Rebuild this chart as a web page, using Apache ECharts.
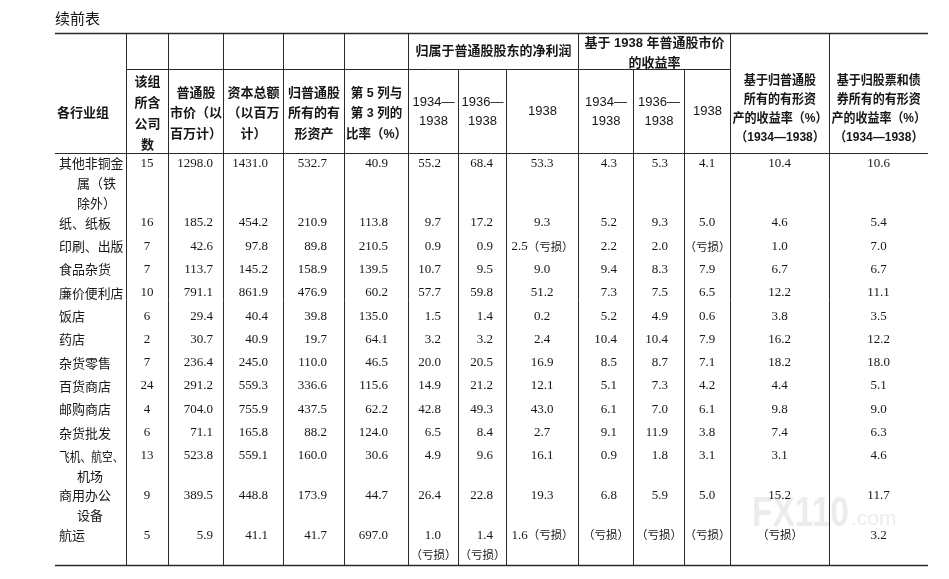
<!DOCTYPE html>
<html>
<head>
<meta charset="utf-8">
<script src="https://cdn.jsdelivr.net/npm/echarts/dist/echarts.min.js"></script>
<style>
  html, body { margin: 0; padding: 0; background: #ffffff; }
  #chart { width: 949px; height: 579px; }
</style>
</head>
<body>
<div id="chart"></div>
<script>
// ---------------- data ----------------
const tableTitle = '续前表';
const industries = [
  '其他非铜金\n属（铁\n除外）', '纸、纸板', '印刷、出版', '食品杂货', '廉价便利店', '饭店', '药店',
  '杂货零售', '百货商店', '邮购商店', '杂货批发', '飞机、航空、\n机场', '商用办公\n设备', '航运'
];
const companyCount          = [15, 16, 7, 7, 10, 6, 2, 7, 24, 4, 6, 13, 9, 5];
const commonStockPrice      = [1298.0, 185.2, 42.6, 113.7, 791.1, 29.4, 30.7, 236.4, 291.2, 704.0, 71.1, 523.8, 389.5, 5.9];
const totalCapital          = [1431.0, 454.2, 97.8, 145.2, 861.9, 40.4, 40.9, 245.0, 559.3, 755.9, 165.8, 559.1, 448.8, 41.1];
const commonTangibleAssets  = [532.7, 210.9, 89.8, 158.9, 476.9, 39.8, 19.7, 110.0, 336.6, 437.5, 88.2, 160.0, 173.9, 41.7];
const ratioCol5ToCol3       = [40.9, 113.8, 210.5, 139.5, 60.2, 135.0, 64.1, 46.5, 115.6, 62.2, 124.0, 30.6, 44.7, 697.0];
// negative = loss of that amount; null = loss (no figure)
const netIncome1934to1938   = [55.2, 9.7, 0.9, 10.7, 57.7, 1.5, 3.2, 20.0, 14.9, 42.8, 6.5, 4.9, 26.4, -1.0];
const netIncome1936to1938   = [68.4, 17.2, 0.9, 9.5, 59.8, 1.4, 3.2, 20.5, 21.2, 49.3, 8.4, 9.6, 22.8, -1.4];
const netIncome1938         = [53.3, 9.3, -2.5, 9.0, 51.2, 0.2, 2.4, 16.9, 12.1, 43.0, 2.7, 16.1, 19.3, -1.6];
const yieldOnPrice1934to1938 = [4.3, 5.2, 2.2, 9.4, 7.3, 5.2, 10.4, 8.5, 5.1, 6.1, 9.1, 0.9, 6.8, null];
const yieldOnPrice1936to1938 = [5.3, 9.3, 2.0, 8.3, 7.5, 4.9, 10.4, 8.7, 7.3, 7.0, 11.9, 1.8, 5.9, null];
const yieldOnPrice1938       = [4.1, 5.0, null, 7.9, 6.5, 0.6, 7.9, 7.1, 4.2, 6.1, 3.8, 3.1, 5.0, null];
const returnOnCommonTangible = [10.4, 4.6, 1.0, 6.7, 12.2, 3.8, 16.2, 18.2, 4.4, 9.8, 7.4, 3.1, 15.2, null];
const returnOnTotalTangible  = [10.6, 5.4, 7.0, 6.7, 11.1, 3.5, 12.2, 18.0, 5.1, 9.0, 6.3, 4.6, 11.7, 3.2];
const lossLabel = '（亏损）';

const headerColumns = ['各行业组', '该组\n所含\n公司\n数', '普通股\n市价（以\n百万计）', '资本总额\n（以百万\n计）',
  '归普通股\n所有的有\n形资产', '第 5 列与\n第 3 列的\n比率（%）'];
const groupHeaders = ['归属于普通股股东的净利润', '基于 1938 年普通股市价\n的收益率'];
const periodHeaders = ['1934—\n1938', '1936—\n1938', '1938', '1934—\n1938', '1936—\n1938', '1938'];
const rightHeaders = ['基于归普通股\n所有的有形资\n产的收益率（%）\n（1934—1938）',
  '基于归股票和债\n券所有的有形资\n产的收益率（%）\n（1934—1938）'];
const watermarkText = ['FX110', '.com'];

// ---------------- layout ----------------
const EDGES = [55, 126.5, 168.5, 223.5, 283.5, 344.5, 408.5, 458.5, 506.5, 578.5, 633.5, 684.5, 730.5, 829.5, 928];
const Y_TOP = 33.5, Y_MID = 69.5, Y_HEAD = 153.5;
const LINE_H = 19.8, SINGLE_ROW_H = 23.3, FIRST_OFF = 10;
const COL_ALIGN = [null, ['center', 147], ['right', 213], ['right', 268], ['right', 327], ['right', 388],
  ['right', 441], ['right', 493], ['center', 542], ['right', 617], ['right', 668], ['center', 707],
  ['center', 779.5], ['center', 878.5]];
const SERIF = '"Liberation Serif", "Times New Roman", serif';
const CJK = '"Noto Sans CJK SC", sans-serif';
const SANS = '"Liberation Sans", "Noto Sans CJK SC", sans-serif';
const INK = '#161616';
const RICH = { l: { fontSize: 11.5, fontFamily: CJK, fill: INK, color: INK } };

const measureCtx = document.createElement('canvas').getContext('2d');
function fitScale(text, o) {
  if (!o.maxW || o.rich) return 1;
  measureCtx.font = (o.weight || 'normal') + ' ' + (o.size || 13) + 'px ' + (o.family || CJK);
  let w = 0;
  String(text).split('\n').forEach(s => { w = Math.max(w, measureCtx.measureText(s).width); });
  return w > o.maxW ? o.maxW / w : 1;
}

const valueColumns = [companyCount, commonStockPrice, totalCapital, commonTangibleAssets, ratioCol5ToCol3,
  netIncome1934to1938, netIncome1936to1938, netIncome1938,
  yieldOnPrice1934to1938, yieldOnPrice1936to1938, yieldOnPrice1938,
  returnOnCommonTangible, returnOnTotalTangible];

function cellLines(v, ci) {
  if (ci === 1) return [{ t: String(v) }];
  if (v === null) return [{ t: '{l|' + lossLabel + '}', loss: true }];
  if (v < 0) {
    const n = Math.abs(v).toFixed(1);
    if (EDGES[ci + 1] - EDGES[ci] < 60) return [{ t: n }, { t: '{l|' + lossLabel + '}', loss: true }];
    return [{ t: n + '{l|' + lossLabel + '}', loss: true }];
  }
  return [{ t: v.toFixed(1) }];
}

const texts = [];
function addText(x, y, text, o) {
  const t = Object.assign({ x: x, y: y, text: text, align: 'center', size: 13, family: CJK, weight: 'normal', lineHeight: 20 }, o || {});
  t.scaleX = fitScale(text, t);
  texts.push(t);
}

// title
addText(55, 18, tableTitle, { align: 'left', size: 15 });

// header
const HB = { weight: 'bold', family: SANS };
addText(57, 113, headerColumns[0], Object.assign({ align: 'left' }, HB));
addText((EDGES[1] + EDGES[2]) / 2, 113.5, headerColumns[1], Object.assign({ lineHeight: 21 }, HB));
for (let i = 2; i <= 5; i++) {
  addText((EDGES[i] + EDGES[i + 1]) / 2, 113.5, headerColumns[i],
    Object.assign({ lineHeight: 20.5, maxW: EDGES[i + 1] - EDGES[i] - 3 }, HB));
}
addText((EDGES[6] + EDGES[9]) / 2, 51, groupHeaders[0], HB);
addText((EDGES[9] + EDGES[12]) / 2, 53, groupHeaders[1], Object.assign({ lineHeight: 20 }, HB));
for (let i = 0; i < 6; i++) {
  const c = 6 + i;
  addText((EDGES[c] + EDGES[c + 1]) / 2, 111.5, periodHeaders[i], { family: SANS, lineHeight: 19 });
}
for (let i = 0; i < 2; i++) {
  const c = 12 + i;
  addText((EDGES[c] + EDGES[c + 1]) / 2, 108.5, rightHeaders[i],
    Object.assign({ lineHeight: 19, size: 13, maxW: EDGES[c + 1] - EDGES[c] - 4 }, HB));
}

// body
let rowTop = Y_HEAD;
for (let r = 0; r < industries.length; r++) {
  const labelLines = industries[r].split('\n');
  let nLines = labelLines.length;
  const cells = valueColumns.map((arr, k) => cellLines(arr[r], k + 1));
  cells.forEach(c => { nLines = Math.max(nLines, c.length); });
  labelLines.forEach((t, k) => {
    const lx = k === 0 ? 59 : 77;
    addText(lx, rowTop + FIRST_OFF + k * LINE_H, t, { align: 'left', size: 13, maxW: EDGES[1] - 3 - lx });
  });
  cells.forEach((lines, k) => {
    const ci = k + 1;
    lines.forEach((ln, j) => {
      const y = rowTop + FIRST_OFF + j * LINE_H;
      if (ln.loss) {
        addText((EDGES[ci] + EDGES[ci + 1]) / 2, y, ln.t, { family: SERIF, rich: RICH });
      } else {
        addText(COL_ALIGN[ci][1], y, ln.t, { align: COL_ALIGN[ci][0], family: SERIF });
      }
    });
  });
  rowTop += nLines === 1 ? SINGLE_ROW_H : nLines * LINE_H;
}
const Y_BOTTOM = Math.round(rowTop) + 0.5;

// rules
const rules = [];
const xLeft = EDGES[0], xRight = EDGES[EDGES.length - 1];
rules.push([xLeft, Y_TOP, xRight, Y_TOP, 1.6]);
rules.push([EDGES[1], Y_MID, EDGES[12], Y_MID, 1]);
rules.push([xLeft, Y_HEAD, xRight, Y_HEAD, 1]);
rules.push([xLeft, Y_BOTTOM, xRight, Y_BOTTOM, 1.6]);
[1, 2, 3, 4, 5, 6, 9, 12, 13].forEach(i => rules.push([EDGES[i], Y_TOP, EDGES[i], Y_BOTTOM, 1]));
[7, 8, 10, 11].forEach(i => rules.push([EDGES[i], Y_MID, EDGES[i], Y_BOTTOM, 1]));

// ---------------- chart ----------------
const chart = echarts.init(document.getElementById('chart'), null, { renderer: 'canvas', width: 949, height: 579 });
chart.setOption({
  animation: false,
  backgroundColor: '#ffffff',
  grid: { left: 0, right: 0, top: 0, bottom: 0 },
  xAxis: { type: 'value', min: 0, max: 949, show: false },
  yAxis: { type: 'value', min: 0, max: 579, inverse: true, show: false },
  graphic: [
    { type: 'text', left: 752, top: 493, z: -10, silent: true, scaleX: 0.78,
      style: { text: watermarkText[0], font: 'bold 43px "Liberation Sans", sans-serif', fill: '#ececec' } },
    { type: 'text', left: 851, top: 509, z: -10, silent: true,
      style: { text: watermarkText[1], font: '21px "Liberation Sans", sans-serif', fill: '#ececec' } }
  ],
  series: [
    {
      type: 'custom', name: 'rules', z: 3, clip: false, silent: true,
      encode: { x: [0, 2], y: [1, 3] },
      data: rules.map(r => [r[0], r[1], r[2], r[3]]),
      renderItem: function (params, api) {
        const p1 = api.coord([api.value(0), api.value(1)]);
        const p2 = api.coord([api.value(2), api.value(3)]);
        return { type: 'line', shape: { x1: p1[0], y1: p1[1], x2: p2[0], y2: p2[1] },
          style: { stroke: '#2a2a2a', lineWidth: rules[params.dataIndex][4] } };
      }
    },
    {
      type: 'custom', name: 'cells', z: 4, clip: false, silent: true,
      encode: { x: 0, y: 1 },
      data: texts.map(t => [t.x, t.y]),
      renderItem: function (params, api) {
        const t = texts[params.dataIndex];
        const p = api.coord([api.value(0), api.value(1)]);
        return { type: 'text', x: p[0], y: p[1], scaleX: t.scaleX,
          style: { text: t.text, align: t.align, verticalAlign: 'middle', fontSize: t.size,
            fontFamily: t.family, fontWeight: t.weight, lineHeight: t.lineHeight, fill: INK, rich: t.rich } };
      }
    }
  ]
});
</script>
</body>
</html>
